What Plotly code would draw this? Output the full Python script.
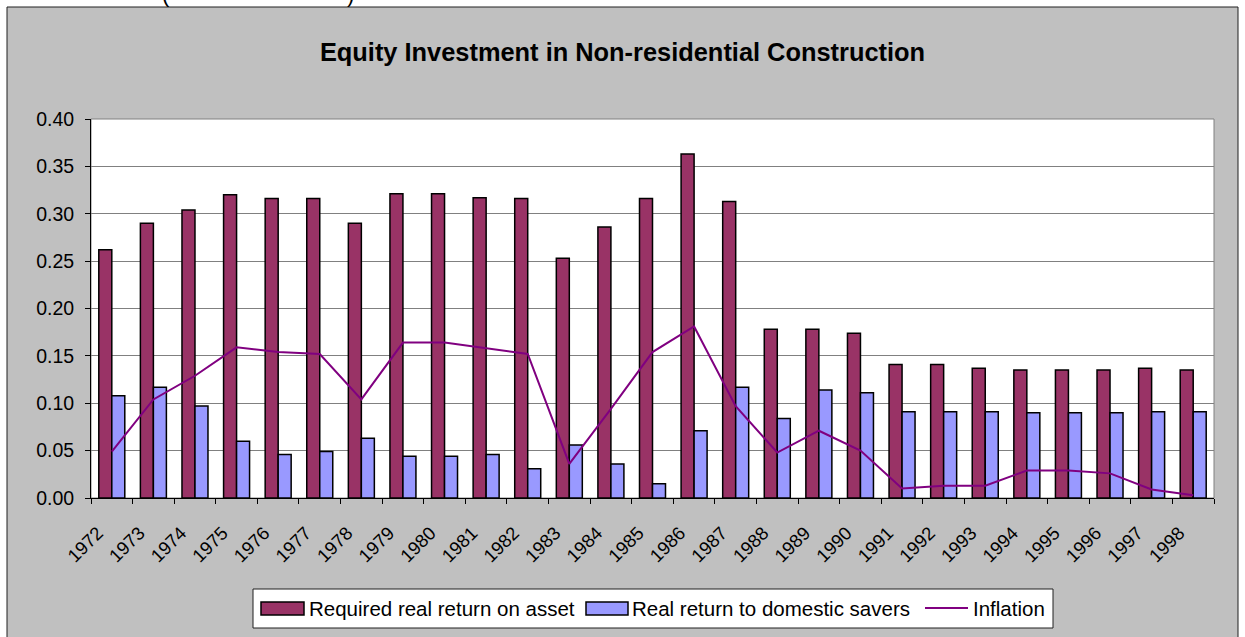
import plotly.graph_objects as go

years = [str(y) for y in range(1972, 1999)]
required_return = [0.262, 0.290, 0.304, 0.320, 0.316, 0.316, 0.290, 0.321, 0.321, 0.317,
                   0.316, 0.253, 0.286, 0.316, 0.363, 0.313, 0.178, 0.178, 0.174, 0.141,
                   0.141, 0.137, 0.135, 0.135, 0.135, 0.137, 0.135]
savers_return = [0.108, 0.117, 0.097, 0.060, 0.046, 0.049, 0.063, 0.044, 0.044, 0.046,
                 0.031, 0.056, 0.036, 0.015, 0.071, 0.117, 0.084, 0.114, 0.111, 0.091,
                 0.091, 0.091, 0.090, 0.090, 0.090, 0.091, 0.091]
inflation = [0.049, 0.104, 0.129, 0.159, 0.154, 0.152, 0.104, 0.164, 0.164, 0.158,
             0.152, 0.036, 0.094, 0.154, 0.181, 0.097, 0.048, 0.071, 0.050, 0.010,
             0.013, 0.013, 0.029, 0.029, 0.026, 0.009, 0.003]
y_ticks = [0.00, 0.05, 0.10, 0.15, 0.20, 0.25, 0.30, 0.35, 0.40]
series_names = ["Required real return on asset", "Real return to domestic savers", "Inflation"]
series_colors = ["#993366", "#9999FF", "#800080"]

W, H = 1245, 637
L, R, T, B = 91, 1214, 119, 498
FONT = "Liberation Sans, Arial, sans-serif"

def px(x):
    return (x - L) / (R - L)

def py(y):
    return (B - y) / (B - T)

fig = go.Figure()
fig.add_trace(go.Bar(x=years, y=required_return, name=series_names[0],
                     marker=dict(color=series_colors[0], line=dict(color="black", width=1.5))))
fig.add_trace(go.Bar(x=years, y=savers_return, name=series_names[1],
                     marker=dict(color=series_colors[1], line=dict(color="black", width=1.5))))
fig.add_trace(go.Scatter(x=years, y=inflation, name=series_names[2], mode="lines",
                         line=dict(color=series_colors[2], width=2)))

shapes = [
    # chart area
    dict(type="rect", xref="paper", yref="paper", x0=px(7), x1=px(1238), y0=py(7), y1=py(660),
         fillcolor="#C0C0C0", line=dict(color="#202020", width=1), layer="below"),
    # plot area
    dict(type="rect", xref="paper", yref="paper", x0=0, x1=1, y0=0, y1=1,
         fillcolor="white", line=dict(color="#808080", width=1), layer="below"),
    # legend box
    dict(type="rect", xref="paper", yref="paper", x0=px(253), x1=px(1053), y0=py(628), y1=py(589),
         fillcolor="white", line=dict(color="#202020", width=1), layer="above"),
    # legend keys
    dict(type="rect", xref="paper", yref="paper", x0=px(261), x1=px(304), y0=py(615), y1=py(602),
         fillcolor=series_colors[0], line=dict(color="black", width=1.5), layer="above"),
    dict(type="rect", xref="paper", yref="paper", x0=px(586), x1=px(628), y0=py(615), y1=py(602),
         fillcolor=series_colors[1], line=dict(color="black", width=1.5), layer="above"),
    dict(type="line", xref="paper", yref="paper", x0=px(925), x1=px(968), y0=py(608), y1=py(608),
         line=dict(color=series_colors[2], width=2), layer="above"),
]

LEG = 20.5
annotations = [
    dict(text="(", x=px(166), y=py(9), xref="paper", yref="paper", showarrow=False,
         xanchor="center", yanchor="bottom", font=dict(family=FONT, size=22, color="black")),
    dict(text=")", x=px(350), y=py(9), xref="paper", yref="paper", showarrow=False,
         xanchor="center", yanchor="bottom", font=dict(family=FONT, size=22, color="black")),
    dict(text=series_names[0], x=px(307), y=py(608), xref="paper", yref="paper", showarrow=False,
         xanchor="left", yanchor="middle", font=dict(family=FONT, size=LEG, color="black")),
    dict(text=series_names[1], x=px(630), y=py(608), xref="paper", yref="paper", showarrow=False,
         xanchor="left", yanchor="middle", font=dict(family=FONT, size=LEG, color="black")),
    dict(text=series_names[2], x=px(971), y=py(608), xref="paper", yref="paper", showarrow=False,
         xanchor="left", yanchor="middle", font=dict(family=FONT, size=LEG, color="black")),
]

fig.update_layout(
    width=W, height=H,
    margin=dict(l=L, r=W - R, t=T, b=H - B),
    paper_bgcolor="white", plot_bgcolor="rgba(0,0,0,0)",
    barmode="group", bargap=0.375, bargroupgap=0,
    title=dict(text="<b>Equity Investment in Non-residential Construction</b>",
               x=622.5 / W, xref="container", xanchor="center", y=1 - 52 / H, yanchor="middle",
               font=dict(family=FONT, size=25.4, color="black")),
    font=dict(family=FONT, size=18, color="black"),
    shapes=shapes, annotations=annotations,
    showlegend=False,
)
fig.update_xaxes(type="category", showgrid=False, showline=True, linecolor="black", linewidth=1,
                 ticks="outside", tickson="boundaries", ticklen=5, tickcolor="black",
                 tickangle=-45, tickfont=dict(family=FONT, size=18.5, color="black"),
                 ticklabelstandoff=16, ticklabelshift=-14)
fig.update_yaxes(range=[0, 0.40], tickvals=y_ticks, tickformat=".2f",
                 showgrid=True, gridcolor="#808080", gridwidth=1,
                 showline=True, linecolor="black", linewidth=1,
                 ticks="outside", ticklen=5, tickcolor="black", ticklabelstandoff=7,
                 tickfont=dict(family=FONT, size=19.5, color="black"), zeroline=False)

fig.write_html("out.html", config={"displayModeBar": False},
               post_script="document.body.style.margin='0';")
